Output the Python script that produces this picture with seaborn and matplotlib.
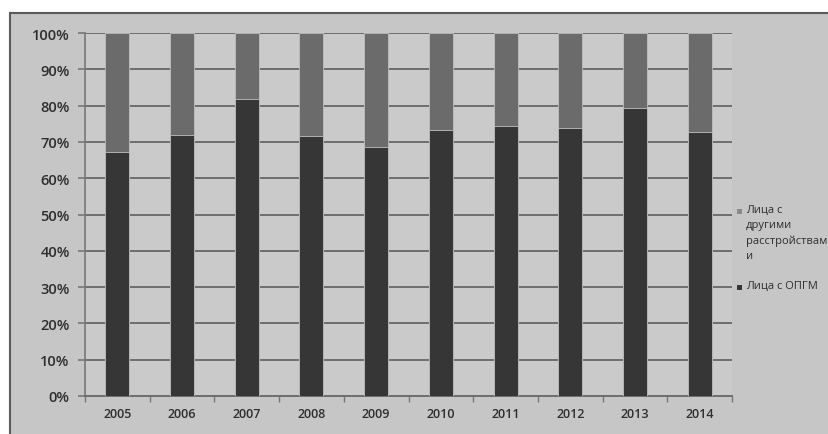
import matplotlib
matplotlib.use("Agg")
import matplotlib.pyplot as plt
import seaborn as sns
import pandas as pd
from matplotlib.patches import Rectangle
from matplotlib.ticker import FixedLocator, PercentFormatter

years = ["2005", "2006", "2007", "2008", "2009", "2010", "2011", "2012", "2013", "2014"]
opgm = [67.2, 72.0, 81.8, 71.6, 68.6, 73.3, 74.4, 73.8, 79.3, 72.7]
total = [100] * len(years)
label_other = "Лица с\nдругими\nрасстройствам\nи"
label_opgm = "Лица с ОПГМ"
yticks = [0, 10, 20, 30, 40, 50, 60, 70, 80, 90, 100]

sns.set_theme(style="white")
plt.rcParams["font.family"] = ["Open Sans", "DejaVu Sans"]

W, H = 829, 435
fig = plt.figure(figsize=(W / 100, H / 100), dpi=100)
fig.patch.set_facecolor("white")
fig.add_artist(Rectangle((10 / W, -0.05), 1.0, (H - 14) / H + 0.05,
                         transform=fig.transFigure, facecolor="#c6c6c6",
                         edgecolor="#5a5a5a", linewidth=1.5, zorder=0))

ax = fig.add_axes([85 / W, (H - 397) / H, (732 - 85) / W, (397 - 34) / H])
ax.set_facecolor("#cacaca")

df = pd.DataFrame({"year": years, "opgm": opgm, "total": total})
sns.barplot(data=df, x="year", y="total", color="#6b6b6b", width=0.37,
            saturation=1, ax=ax, zorder=3)
sns.barplot(data=df, x="year", y="opgm", color="#363636", width=0.37,
            saturation=1, ax=ax, zorder=3)
for p in ax.patches:
    p.set_edgecolor("#c0c0c0")
    p.set_linewidth(0.6)

ax.set_ylim(0, 100)
ax.set_xlim(-0.5, len(years) - 0.5)
ax.yaxis.set_major_locator(FixedLocator(yticks))
ax.yaxis.set_major_formatter(PercentFormatter(decimals=0))
ax.grid(axis="y", color="#6e6e6e", linewidth=1.4, zorder=1)
ax.set_axisbelow(True)
for s in ["top", "right"]:
    ax.spines[s].set_visible(False)
ax.spines["left"].set_color("#777777")
ax.spines["left"].set_linewidth(1.2)
ax.spines["bottom"].set_color("#6e6e6e")
ax.spines["bottom"].set_linewidth(1.4)
ax.set_xlabel("")
ax.set_ylabel("")
ax.tick_params(axis="y", length=5, width=1.2, color="#777777", left=True,
               labelsize=10.5, labelcolor="#2e2e2e", pad=6)
ax.tick_params(axis="x", which="major", length=0, labelsize=9,
               labelcolor="#2e2e2e", pad=8)
ax.set_xticks([i + 0.5 for i in range(-1, len(years))], minor=True)
ax.tick_params(axis="x", which="minor", length=4, width=1.0, color="#777777",
               bottom=True, direction="out")
for t in ax.get_yticklabels():
    t.set_fontweight("semibold")
for t in ax.get_xticklabels():
    t.set_fontweight("semibold")

# legend drawn manually so the swatch sits on the first text line
legend_items = [(label_other, "#8a8a8a", 212), (label_opgm, "#363636", 288)]
for text, col, ypix in legend_items:
    fig.add_artist(Rectangle((737 / W, (H - ypix - 2.5) / H), 5 / W, 5 / H,
                             transform=fig.transFigure, facecolor=col,
                             edgecolor="none", zorder=5))
    fig.text(746 / W, (H - ypix + 7) / H, text, ha="left", va="top",
             fontsize=8, color="#2e2e2e", linespacing=1.5)

fig.savefig("out.png", dpi=100)
